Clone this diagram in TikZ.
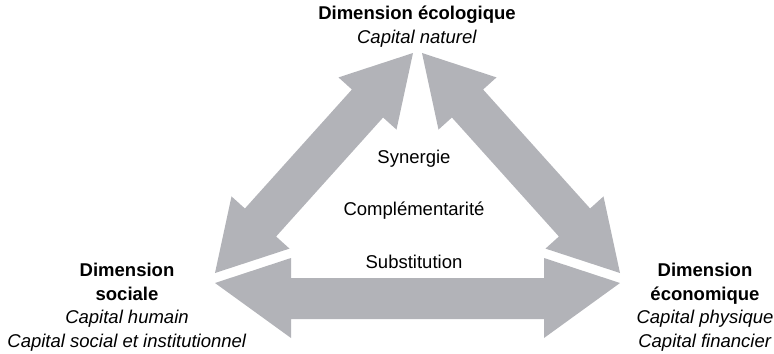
\documentclass[tikz,border=0pt]{standalone}
\usepackage{fontspec}
\setmainfont{Liberation Sans}
\definecolor{arrowgray}{RGB}{178,179,184}

\begin{document}
\begin{tikzpicture}[
  x=0.03cm, y=-0.03cm,
  bigarrow/.style={fill=arrowgray, draw=none},
  dimlabel/.style={align=center, anchor=base, inner sep=0pt,
    font=\fontsize{15.8}{20}\selectfont},
  linklabel/.style={anchor=base, inner sep=0pt,
    font=\fontsize{15.8}{20}\selectfont}
]
\useasboundingbox (0,0) rectangle (774,353);

% Left arrow (sociale <-> ecologique)
\fill[bigarrow] (215,273) -- (289.5,248.6) -- (276.1,236.5) -- (383.1,117.5)
  -- (396.5,129.6) -- (413,53) -- (338.5,77.4) -- (351.9,89.5)
  -- (244.9,208.5) -- (231.5,196.4) -- cycle;

% Right arrow (ecologique <-> economique)
\fill[bigarrow] (620,273) -- (545.5,248.6) -- (558.9,236.5) -- (451.9,117.5)
  -- (438.5,129.6) -- (422,53) -- (496.5,77.4) -- (483.1,89.5)
  -- (590.1,208.5) -- (603.5,196.4) -- cycle;

% Bottom arrow (sociale <-> economique)
\fill[bigarrow] (215,283) -- (291,258) -- (291,278) -- (544,278) -- (544,258)
  -- (620,283) -- (544,338) -- (544,319) -- (291,319) -- (291,338) -- cycle;

% Dimensions (base = last line)
\node[dimlabel] (ecolo) at (417,43)
  {\textbf{Dimension écologique}\\ \textit{Capital naturel}};
\node[dimlabel] (sociale) at (127,347)
  {\textbf{Dimension}\\ \textbf{sociale}\\ \textit{Capital humain}\\
   \textit{Capital social et institutionnel}};
\node[dimlabel] (econo) at (705,347)
  {\textbf{Dimension}\\ \textbf{économique}\\ \textit{Capital physique}\\
   \textit{Capital financier}};

% Relations
\node[linklabel] (synergie) at (414,163) {Synergie};
\node[linklabel] (complement) at (414,215) {Complémentarité};
\node[linklabel] (substitution) at (414,268) {Substitution};

\end{tikzpicture}
\end{document}
